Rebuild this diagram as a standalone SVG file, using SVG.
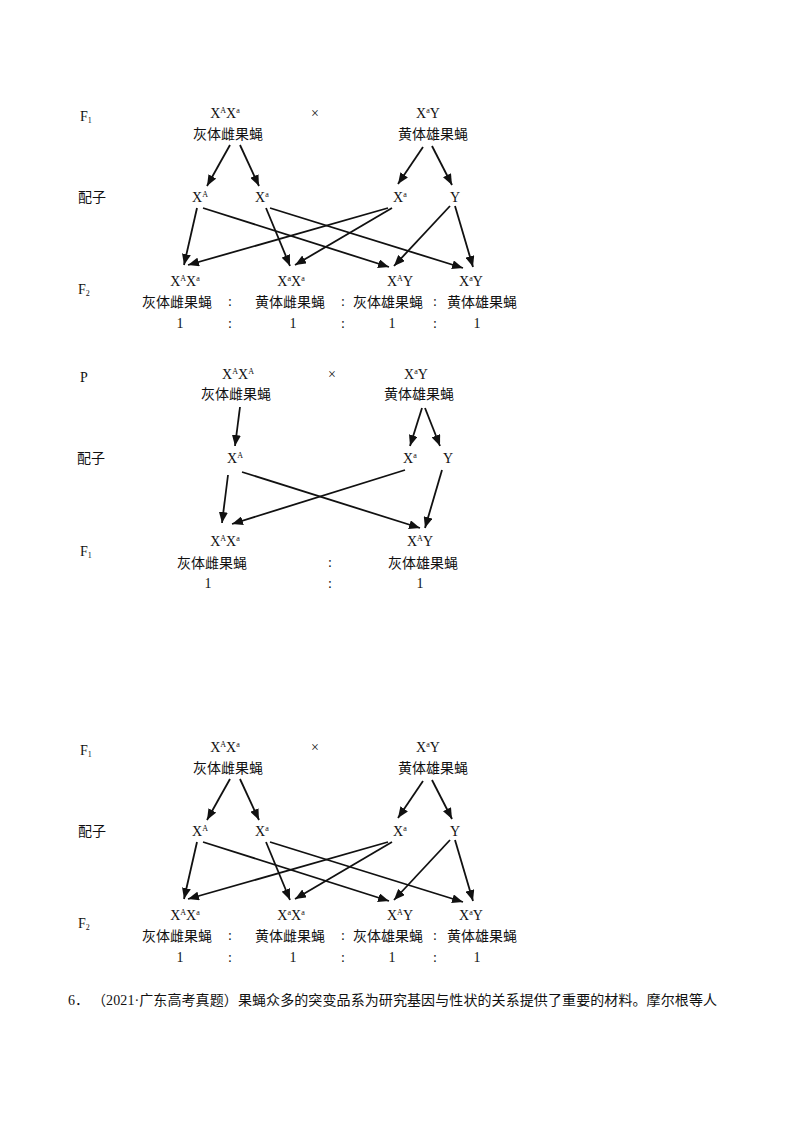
<svg xmlns="http://www.w3.org/2000/svg" width="800" height="1132" viewBox="0 0 800 1132">
<style>
.t{font-family:"Liberation Serif","Noto Sans CJK SC",serif;font-size:14px;fill:#111}
.c{font-family:"Noto Sans CJK SC","Liberation Sans",sans-serif;font-size:14px;fill:#111}
.m{text-anchor:middle}
.s{font-size:8px}
.cn line{stroke:#111;stroke-width:1.8;marker-end:url(#ah)}
</style>
<defs>
<marker id="ah" markerUnits="userSpaceOnUse" markerWidth="12" markerHeight="9" refX="11" refY="4.5" orient="auto">
<path d="M0,0 L11,4.5 L0,9 z" fill="#111"/>
</marker>
</defs>
<rect width="800" height="1132" fill="#fff"/>

<!-- Diagram 1 -->
<g id="d1">
<g id="d1-labels">
<text class="t" x="80" y="121">F<tspan class="s" dy="2">1</tspan></text>
<text class="c" x="78" y="202">配子</text>
<text class="t" x="78" y="294">F<tspan class="s" dy="2">2</tspan></text>
<text class="t m" x="315" y="118">×</text>
</g>
<g id="d1-p-female"><text class="t m" x="225" y="118">X<tspan class="s" dy="-5">A</tspan><tspan dy="5">X</tspan><tspan class="s" dy="-5">a</tspan></text><text class="c m" x="228" y="139">灰体雌果蝇</text></g>
<g id="d1-p-male"><text class="t m" x="428" y="118">X<tspan class="s" dy="-5">a</tspan><tspan dy="5">Y</tspan></text><text class="c m" x="433" y="139">黄体雄果蝇</text></g>
<g id="d1-g1"><text class="t" x="192" y="202">X<tspan class="s" dy="-5">A</tspan></text></g>
<g id="d1-g2"><text class="t" x="255" y="202">X<tspan class="s" dy="-5">a</tspan></text></g>
<g id="d1-g3"><text class="t" x="393" y="202">X<tspan class="s" dy="-5">a</tspan></text></g>
<g id="d1-g4"><text class="t" x="450" y="202">Y</text></g>
<g id="d1-o1"><text class="t m" x="185" y="286">X<tspan class="s" dy="-5">A</tspan><tspan dy="5">X</tspan><tspan class="s" dy="-5">a</tspan></text><text class="c" x="142" y="307">灰体雌果蝇</text><text class="t m" x="180" y="328">1</text></g>
<g id="d1-o2"><text class="t m" x="291" y="286">X<tspan class="s" dy="-5">a</tspan><tspan dy="5">X</tspan><tspan class="s" dy="-5">a</tspan></text><text class="c" x="255" y="307">黄体雌果蝇</text><text class="t m" x="293" y="328">1</text></g>
<g id="d1-o3"><text class="t m" x="400" y="286">X<tspan class="s" dy="-5">A</tspan><tspan dy="5">Y</tspan></text><text class="c" x="353" y="307">灰体雄果蝇</text><text class="t m" x="392" y="328">1</text></g>
<g id="d1-o4"><text class="t m" x="471" y="286">X<tspan class="s" dy="-5">a</tspan><tspan dy="5">Y</tspan></text><text class="c" x="447" y="307">黄体雄果蝇</text><text class="t m" x="477" y="328">1</text></g>
<g id="d1-colons">
<text class="t m" x="230" y="306">:</text><text class="t m" x="343" y="306">:</text><text class="t m" x="435" y="306">:</text>
<text class="t m" x="230" y="328">:</text><text class="t m" x="343" y="328">:</text><text class="t m" x="435" y="328">:</text>
</g>
<g id="d1-connectors" class="cn">
<line x1="230" y1="145" x2="207" y2="186"/>
<line x1="240" y1="145" x2="259" y2="186"/>
<line x1="423" y1="147" x2="398" y2="184"/>
<line x1="432" y1="146" x2="452" y2="185"/>
<line x1="197" y1="208" x2="184" y2="265"/>
<line x1="203" y1="208" x2="389" y2="267"/>
<line x1="266" y1="208" x2="290" y2="266"/>
<line x1="270" y1="208" x2="463" y2="268"/>
<line x1="388" y1="208" x2="188" y2="265"/>
<line x1="392" y1="208" x2="295" y2="265"/>
<line x1="450" y1="206" x2="394" y2="266"/>
<line x1="455" y1="206" x2="473" y2="267"/>
</g>
</g>

<!-- Diagram 2 -->
<g id="d2">
<g id="d2-labels">
<text class="t" x="80" y="382">P</text>
<text class="c" x="77" y="463">配子</text>
<text class="t" x="80" y="556">F<tspan class="s" dy="2">1</tspan></text>
<text class="t m" x="332" y="379">×</text>
</g>
<g id="d2-p-female"><text class="t m" x="238" y="379">X<tspan class="s" dy="-5">A</tspan><tspan dy="5">X</tspan><tspan class="s" dy="-5">A</tspan></text><text class="c m" x="236" y="399">灰体雌果蝇</text></g>
<g id="d2-p-male"><text class="t m" x="416" y="379">X<tspan class="s" dy="-5">a</tspan><tspan dy="5">Y</tspan></text><text class="c m" x="419" y="399">黄体雄果蝇</text></g>
<g id="d2-g1"><text class="t" x="227" y="463">X<tspan class="s" dy="-5">A</tspan></text></g>
<g id="d2-g2"><text class="t" x="403" y="463">X<tspan class="s" dy="-5">a</tspan></text></g>
<g id="d2-g3"><text class="t" x="443" y="463">Y</text></g>
<g id="d2-o1"><text class="t m" x="225" y="546">X<tspan class="s" dy="-5">A</tspan><tspan dy="5">X</tspan><tspan class="s" dy="-5">a</tspan></text><text class="c m" x="212" y="568">灰体雌果蝇</text><text class="t m" x="208" y="588">1</text></g>
<g id="d2-o2"><text class="t m" x="420" y="546">X<tspan class="s" dy="-5">A</tspan><tspan dy="5">Y</tspan></text><text class="c m" x="423" y="568">灰体雄果蝇</text><text class="t m" x="420" y="588">1</text></g>
<g id="d2-colons"><text class="t m" x="330" y="567">:</text><text class="t m" x="330" y="588">:</text></g>
<g id="d2-connectors" class="cn">
<line x1="240" y1="407" x2="235" y2="446"/>
<line x1="422" y1="408" x2="410" y2="446"/>
<line x1="425" y1="408" x2="440" y2="446"/>
<line x1="228" y1="475" x2="222" y2="523"/>
<line x1="242" y1="472" x2="420" y2="528"/>
<line x1="405" y1="470" x2="232" y2="524"/>
<line x1="442" y1="470" x2="425" y2="528"/>
</g>
</g>

<!-- Diagram 3 -->
<g id="d3" transform="translate(0,634)">
<g id="d3-labels">
<text class="t" x="80" y="121">F<tspan class="s" dy="2">1</tspan></text>
<text class="c" x="78" y="202">配子</text>
<text class="t" x="78" y="294">F<tspan class="s" dy="2">2</tspan></text>
<text class="t m" x="315" y="118">×</text>
</g>
<g id="d3-p-female"><text class="t m" x="225" y="118">X<tspan class="s" dy="-5">A</tspan><tspan dy="5">X</tspan><tspan class="s" dy="-5">a</tspan></text><text class="c m" x="228" y="139">灰体雌果蝇</text></g>
<g id="d3-p-male"><text class="t m" x="428" y="118">X<tspan class="s" dy="-5">a</tspan><tspan dy="5">Y</tspan></text><text class="c m" x="433" y="139">黄体雄果蝇</text></g>
<g id="d3-g1"><text class="t" x="192" y="202">X<tspan class="s" dy="-5">A</tspan></text></g>
<g id="d3-g2"><text class="t" x="255" y="202">X<tspan class="s" dy="-5">a</tspan></text></g>
<g id="d3-g3"><text class="t" x="393" y="202">X<tspan class="s" dy="-5">a</tspan></text></g>
<g id="d3-g4"><text class="t" x="450" y="202">Y</text></g>
<g id="d3-o1"><text class="t m" x="185" y="286">X<tspan class="s" dy="-5">A</tspan><tspan dy="5">X</tspan><tspan class="s" dy="-5">a</tspan></text><text class="c" x="142" y="307">灰体雌果蝇</text><text class="t m" x="180" y="328">1</text></g>
<g id="d3-o2"><text class="t m" x="291" y="286">X<tspan class="s" dy="-5">a</tspan><tspan dy="5">X</tspan><tspan class="s" dy="-5">a</tspan></text><text class="c" x="255" y="307">黄体雌果蝇</text><text class="t m" x="293" y="328">1</text></g>
<g id="d3-o3"><text class="t m" x="400" y="286">X<tspan class="s" dy="-5">A</tspan><tspan dy="5">Y</tspan></text><text class="c" x="353" y="307">灰体雄果蝇</text><text class="t m" x="392" y="328">1</text></g>
<g id="d3-o4"><text class="t m" x="471" y="286">X<tspan class="s" dy="-5">a</tspan><tspan dy="5">Y</tspan></text><text class="c" x="447" y="307">黄体雄果蝇</text><text class="t m" x="477" y="328">1</text></g>
<g id="d3-colons">
<text class="t m" x="230" y="306">:</text><text class="t m" x="343" y="306">:</text><text class="t m" x="435" y="306">:</text>
<text class="t m" x="230" y="328">:</text><text class="t m" x="343" y="328">:</text><text class="t m" x="435" y="328">:</text>
</g>
<g id="d3-connectors" class="cn">
<line x1="230" y1="145" x2="207" y2="186"/>
<line x1="240" y1="145" x2="259" y2="186"/>
<line x1="423" y1="147" x2="398" y2="184"/>
<line x1="432" y1="146" x2="452" y2="185"/>
<line x1="197" y1="208" x2="184" y2="265"/>
<line x1="203" y1="208" x2="389" y2="267"/>
<line x1="266" y1="208" x2="290" y2="266"/>
<line x1="270" y1="208" x2="463" y2="268"/>
<line x1="388" y1="208" x2="188" y2="265"/>
<line x1="392" y1="208" x2="295" y2="265"/>
<line x1="450" y1="206" x2="394" y2="266"/>
<line x1="455" y1="206" x2="473" y2="267"/>
</g>
</g>

<g id="question">
<text class="t" x="68" y="1005">6．</text>
<text class="t" x="92" y="1005" textLength="625" lengthAdjust="spacing">（2021·广东高考真题）果蝇众多的突变品系为研究基因与性状的关系提供了重要的材料。摩尔根等人</text>
</g>
</svg>
